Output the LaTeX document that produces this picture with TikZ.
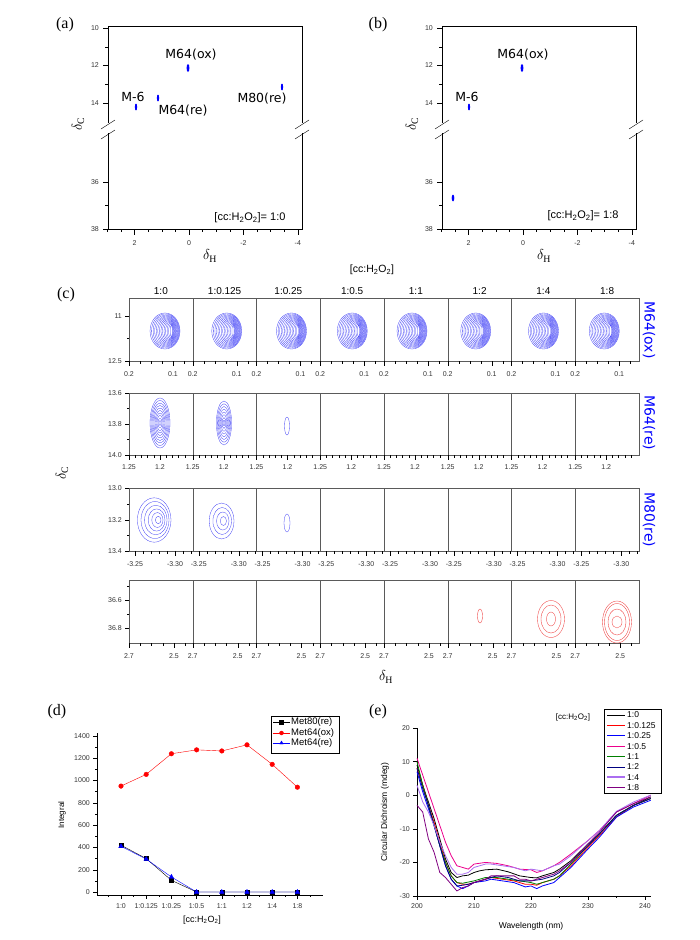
\documentclass[tikz,border=0pt]{standalone}
\usepackage{fontspec}
\setmainfont{Liberation Serif}
\setsansfont{Liberation Sans}
\newfontfamily\dejavu{DejaVu Sans}
\usetikzlibrary{plotmarks}
\definecolor{cdgreen}{RGB}{0,128,0}
\definecolor{cdnavy}{RGB}{0,0,128}
\definecolor{cdlav}{RGB}{170,110,240}
\definecolor{cdpurp}{RGB}{128,0,128}
\definecolor{ctblue}{RGB}{60,60,245}
\definecolor{ctred}{RGB}{240,80,80}
\definecolor{axgray}{RGB}{90,90,90}
\newcommand\ccratio{[cc:H\textsubscript{2}O\textsubscript{2}]}
\begin{document}
\begin{tikzpicture}[x=1pt,y=-1pt,>=stealth,
  panlab/.style={font=\fontsize{16}{16}\selectfont},
  ticklab/.style={font=\sffamily\fontsize{7}{7}\selectfont,inner sep=1pt,text=black!80},
  peaklab/.style={font=\dejavu\fontsize{12.5}{13}\selectfont},
  sidelab/.style={font=\dejavu\fontsize{14}{14}\selectfont,text=blue,rotate=-90},
  deltalab/.style={font=\fontsize{14}{14}\selectfont},
  cont/.style={ctblue,line width=0.3pt},
  redcont/.style={ctred,line width=0.4pt}]
\useasboundingbox (0,0) rectangle (700,940);

% (a) and (b): frames
\foreach \dx/\p in {0/a,334/b}{
 \begin{scope}[xshift=\dx pt]
  \draw (108,123) -- (108,26) -- (302,26) -- (302,123);
  \draw (108,133) -- (108,229) -- (302,229) -- (302,133);
  \draw (101,129) -- (115,120) (101,139) -- (115,130);
  \draw (295,129) -- (309,120) (295,139) -- (309,130);
  \foreach \yy/\lab [count=\k] in {28/10,65.5/12,103/14,182/36,229/38}
    \draw (108,\yy) -- (103,\yy) node[ticklab,left=3pt] (yt\p\k) {\lab};
  \foreach \yy in {46.75,84.25,205.5} \draw (108,\yy) -- (105,\yy);
  \foreach \h [count=\k] in {2,0,-2,-4}
    \draw ({189-27.2*\h},229) -- ++(0,6) node[ticklab,below=4pt] (xt\p\k) {\h};
  \foreach \h in {-3.5,-3,...,3} \draw ({189-27.2*\h},229) -- ++(0,3);
  \node[deltalab,rotate=90] (dc\p) at (78,124) {$\delta_{\rm C}$};
  \node[deltalab] (dh\p) at (210,256) {$\delta_{\rm H}$};
 \end{scope}}

% (a)
\node[panlab] (pa) at (65,25) {(a)};
\fill[blue] (136,107) ellipse (1.1 and 3.5) (158,98) ellipse (1.1 and 3.5)
  (188,68) ellipse (1.4 and 4) (282,87) ellipse (1.1 and 3.5);
\node[peaklab] (ma1) at (191,55) {M64(ox)};
\node[peaklab] (ma2) at (133,97) {M-6};
\node[peaklab] (ma3) at (183,111) {M64(re)};
\node[peaklab] (ma4) at (262,99) {M80(re)};
\node[font=\sffamily\fontsize{11}{11}\selectfont] (ra) at (250,218) {\ccratio= 1:0};

% (b)
\node[panlab] (pb) at (378,25) {(b)};
\fill[blue] (522,68) ellipse (1.4 and 4) (469,107) ellipse (1.1 and 3.5)
  (453,198) ellipse (1.3 and 3.5);
\node[peaklab] (mb1) at (523,55) {M64(ox)};
\node[peaklab] (mb2) at (467,97) {M-6};
\node[font=\sffamily\fontsize{11}{11}\selectfont] (rb) at (583,216) {\ccratio= 1:8};

% (c)
\node[panlab] (pc) at (66,295) {(c)};
\node[font=\sffamily\fontsize{10.5}{11}\selectfont] (cchead) at (372,270) {\ccratio};
\foreach \r [count=\i] in {1:0,1:0.125,1:0.25,1:0.5,1:1,1:2,1:4,1:8}
  \node[font=\sffamily\fontsize{10}{10}\selectfont] (col\i) at ({129+63.75*(\i-0.5)},291) {\r};
\foreach \t/\b in {298/361,393/455,488/551,580/643}{
  \draw[axgray] (129,\t) rectangle (639,\b);
  \foreach \i in {1,...,7} \draw[axgray] ({129+63.75*\i},\t) -- ({129+63.75*\i},\b);
}
% x ticks
\foreach \i in {0,...,7}{
  \draw ({129+63.75*\i},361) -- ++(0,5) node[ticklab,below=4pt] (xa\i) {0.2};
  \draw ({173+63.75*\i},361) -- ++(0,5) node[ticklab,below=4pt] (xb\i) {0.1};
  \foreach \m in {11,22,33,55} \draw ({129+63.75*\i+\m},361) -- ++(0,2.5);
  \draw ({129+63.75*\i},455) -- ++(0,5) node[ticklab,below=3pt] (xc\i) {1.25};
  \draw ({160+63.75*\i},455) -- ++(0,5) node[ticklab,below=3pt] (xd\i) {1.2};
  \foreach \m in {6.2,12.4,18.6,24.8,37.2,43.4,49.6,55.8} \draw ({129+63.75*\i+\m},455) -- ++(0,2.5);
  \draw ({135+63.75*\i},551) -- ++(0,5) node[ticklab,below=4pt] (xe\i) {-3.25};
  \draw ({175+63.75*\i},551) -- ++(0,5) node[ticklab,below=4pt] (xf\i) {-3.30};
  \foreach \m in {14,22,30,38,54,62} \draw ({129+63.75*\i+\m},551) -- ++(0,2.5);
  \draw ({129+63.75*\i},643) -- ++(0,5) node[ticklab,below=4pt] (xg\i) {2.7};
  \draw ({174+63.75*\i},643) -- ++(0,5) node[ticklab,below=4pt] (xh\i) {2.5};
  \foreach \m in {11.25,22.5,33.75,56.25} \draw ({129+63.75*\i+\m},643) -- ++(0,2.5);
}
% y ticks
\foreach \yy/\lab [count=\k] in {316/11,361/12.5,393/13.6,424/13.8,455/14.0,488/13.0,520/13.2,551/13.4,600/36.6,628/36.8}
  \draw (129,\yy) -- ++(-4,0) node[ticklab,left=2pt] (yc\k) {\lab};
\foreach \yy in {338.5,408.5,439.5,504,535.5,586,614} \draw (129,\yy) -- ++(-2.5,0);
% contours
\foreach \c [count=\i from 0] in {36,34,35,32,28,28,32,29}
  \foreach \k in {1,...,14}
    \draw[cont] ({129+63.75*\i+\c+0.45*(15-1.07*\k)},331) ellipse ({1.07*\k} and {5+0.93*\k});
\foreach \k in {1,...,10} \draw[cont] (160,423) ellipse ({\k} and {2.5*\k});
\foreach \k in {1,...,8} \draw[cont] (224,423) ellipse ({0.95*\k} and {2.75*\k});
\draw[cont] (287,426) ellipse (2.5 and 9);
\foreach \k in {1,...,6} \draw[cont] ({159-0.8*\k},520) ellipse ({2.8*\k} and {3.7*\k});
\foreach \k in {1,...,4} \draw[cont] ({224-0.6*\k},521) ellipse ({3.1*\k} and {4.5*\k});
\draw[cont] (287,523) ellipse (3 and 9);
\draw[redcont] (480,616) ellipse (2.5 and 7);
\foreach \rx/\ry in {13.5/18.5,10/14,4.5/7} \draw[redcont] (551,619) ellipse ({\rx} and {\ry});
\foreach \rx/\ry in {14.5/21,12.5/18.5,9/13,5/6} \draw[redcont] (617,622) ellipse ({\rx} and {\ry});
\node[sidelab] (sox) at (649,330) {M64(ox)};
\node[sidelab] (sre) at (649,423) {M64(re)};
\node[sidelab] (s80) at (649,520) {M80(re)};
\node[deltalab,rotate=90] (dcc) at (62,473) {$\delta_{\rm C}$};
\node[deltalab] (dhc) at (386,677) {$\delta_{\rm H}$};

% (d)
\node[panlab] (pd) at (57,712) {(d)};
\draw (97,733) -- (97,895) -- (323,895);
\foreach \v in {0,200,...,1400} \draw (97,{892-0.1115*\v}) -- ++(-4,0) node[ticklab,left=2pt] (yd\v) {\v};
\foreach \v in {100,300,...,1300} \draw (97,{892-0.1115*\v}) -- ++(-2,0);
\foreach \r [count=\i from 0] in {1:0,1:0.125,1:0.25,1:0.5,1:1,1:2,1:4,1:8}
  \draw ({121+25.2*\i},895) -- ++(0,4) node[ticklab,below=3pt] (xdd\i) {\r};
\foreach \i in {0,...,8} \draw ({108.4+25.2*\i},895) -- ++(0,2);
\node[font=\sffamily\fontsize{8}{8}\selectfont,rotate=90] (intg) at (62,815) {Integral};
\node[font=\sffamily\fontsize{9}{9}\selectfont] (ccd) at (202,920) {\ccratio};
\begin{scope}[shift={(121,892)},x=25.2pt,y=0.1115pt]
 \draw[red] plot[mark=*,mark size=2.3pt] coordinates {(0,950) (1,1055) (2,1240) (3,1275) (4,1265) (5,1320) (6,1145) (7,940)};
 \draw plot[mark=square*,mark size=2pt] coordinates {(0,420) (1,300) (2,105) (3,0) (4,0) (5,0) (6,0) (7,0)};
 \draw[blue] plot[mark=triangle*,mark size=2.6pt] coordinates {(0,410) (1,295) (2,135) (3,0) (4,0) (5,0) (6,0) (7,0)};
\end{scope}
\draw (271,716) rectangle (339,753);
\foreach \n/\cc/\mk/\yy [count=\i] in {Met80(re)/black/square*/722,Met64(ox)/red/*/733,Met64(re)/blue/triangle*/743}{
  \draw[\cc] (273,\yy) -- (290,\yy);
  \draw[\cc] plot[only marks,mark=\mk,mark size=2pt] coordinates {(281.5,\yy)};
  \node[font=\sffamily\fontsize{9.5}{10}\selectfont,anchor=west,inner sep=1pt] (lgd\i) at (290,\yy) {\n};
}

% (e)
\node[panlab] (pe) at (378,712) {(e)};
\node[font=\sffamily\fontsize{8}{8}\selectfont] (cce) at (573,717) {\ccratio};
\node[font=\sffamily\fontsize{8.5}{8.5}\selectfont,rotate=90] (cdy) at (385,812) {Circular Dichroism (mdeg)};
\node[font=\sffamily\fontsize{8.5}{8.5}\selectfont] (cdx) at (531,926) {Wavelength (nm)};
\begin{scope}[shift={(-723,795.2)},x=5.7pt,y=3.36pt]
 \draw (200,20) -- (200,-30) -- (241,-30);
 \foreach \v [count=\k] in {-30,-20,...,20} \draw (200,\v) -- ++(-0.7,0) node[ticklab,left=2pt] (ye\k) {\v};
 \foreach \w [count=\k] in {200,210,...,240} \draw (\w,-30) -- ++(0,-1.2) node[ticklab,below=2pt] (xe\k) {\w};
 \foreach \w in {205,215,...,235} \draw (\w,-30) -- ++(0,-0.6);
 \begin{scope}[line width=0.8pt]
 \draw[black] plot coordinates {(200,9) (201,3) (202,-2) (203,-7) (204,-13) (205,-19) (206,-23) (207,-24.5) (208,-24) (209,-23.8) (210,-23) (211,-22.5) (212,-22.2) (214,-22) (216,-22.8) (218,-24) (220,-24.5) (221,-24.6) (222,-24) (224,-23) (225,-22) (227,-19.5) (230,-14.5) (232,-11.5) (235,-6) (238,-3) (241,-0.5)};
 \draw[red] plot coordinates {(200,8) (201,3) (202,-3) (203,-8) (204,-14) (205,-20) (206,-24) (207,-26) (208,-26.5) (209,-26.5) (210,-26) (212,-25) (213,-24.5) (215,-25) (217,-25.5) (219,-26.5) (220,-26.5) (221,-26.8) (222,-26) (224,-25) (225,-24) (227,-21) (230,-15.5) (232,-12) (235,-6.5) (238,-3) (241,-1)};
 \draw[blue] plot coordinates {(200,7) (201,1) (202,-4) (203,-9) (204,-15) (205,-21) (206,-25) (207,-27) (208,-27.8) (209,-27) (210,-26) (212,-25.5) (213,-25) (215,-25.5) (217,-26) (219,-27.3) (220,-27) (221,-27.8) (222,-27) (224,-26) (225,-24.5) (227,-21.5) (230,-16) (232,-12.5) (235,-6.5) (238,-3.5) (241,-1.5)};
 \draw[magenta] plot coordinates {(200,11) (201,6) (202,1) (203,-4) (204,-9) (205,-14) (206,-18) (207,-21) (208,-21.5) (209,-22) (210,-20.5) (212,-20) (214,-20.3) (216,-21) (218,-22) (220,-22.2) (221,-23) (222,-22.5) (224,-21) (225,-20) (227,-17.5) (230,-13.5) (232,-10.5) (235,-5) (238,-2.5) (241,0)};
 \draw[cdgreen] plot coordinates {(200,10) (201,3) (202,-3) (203,-9) (204,-15) (205,-20) (206,-24) (207,-26) (208,-26.2) (210,-25.5) (212,-24.5) (214,-24.5) (216,-25) (218,-25.5) (220,-26) (221,-26.5) (222,-26) (224,-25) (225,-24) (227,-20.5) (230,-15) (232,-11.5) (235,-6) (238,-3) (241,-1)};
 \draw[cdnavy] plot coordinates {(200,8) (201,2) (202,-3) (203,-9) (204,-15) (205,-21) (206,-25) (207,-27) (208,-26.8) (209,-26.5) (210,-26) (212,-25) (214,-24) (216,-24.5) (218,-25.5) (220,-25.5) (222,-25) (224,-24) (225,-23) (227,-20) (230,-15) (232,-11.5) (235,-6) (238,-3) (241,-1)};
 \draw[cdlav] plot coordinates {(200,3) (201,-2) (202,-5) (203,-9) (204,-14) (205,-18) (206,-21.5) (207,-23.5) (208,-23.5) (209,-23) (210,-21.5) (212,-20.5) (213,-20.5) (215,-21) (217,-21.5) (219,-22.5) (220,-22) (222,-22.5) (224,-21) (225,-20.5) (227,-18) (230,-13.5) (232,-10.5) (235,-4.8) (238,-2) (241,0)};
 \draw[cdpurp] plot coordinates {(200,-3) (201,-5) (202,-13) (203,-17) (204,-23) (205,-24.5) (206,-26.5) (207,-28.5) (208,-27.5) (209,-27) (210,-26) (212,-25) (213,-24) (215,-24) (217,-24) (218,-25) (219,-25) (220,-25.5) (222,-24.5) (224,-23.5) (225,-22.5) (227,-20) (230,-14.5) (232,-11) (235,-5) (238,-2.5) (241,-0.5)};
 \end{scope}
\end{scope}
\draw (604,709) rectangle (661,793);
\foreach \r/\cc/\lw [count=\i from 0] in {1:0/black/0.9,1:0.125/red/0.9,1:0.25/blue/0.9,1:0.5/magenta/0.9,1:1/cdgreen/0.9,1:2/cdnavy/0.9,1:4/cdlav/2,1:8/cdpurp/0.9}{
  \draw[\cc,line width=\lw pt] (607,{715+10.4*\i}) -- (625,{715+10.4*\i});
  \node[font=\sffamily\fontsize{8.5}{8.5}\selectfont,anchor=west,inner sep=1pt] (le\i) at (626,{715+10.4*\i}) {\r};
}
\end{tikzpicture}
\end{document}
